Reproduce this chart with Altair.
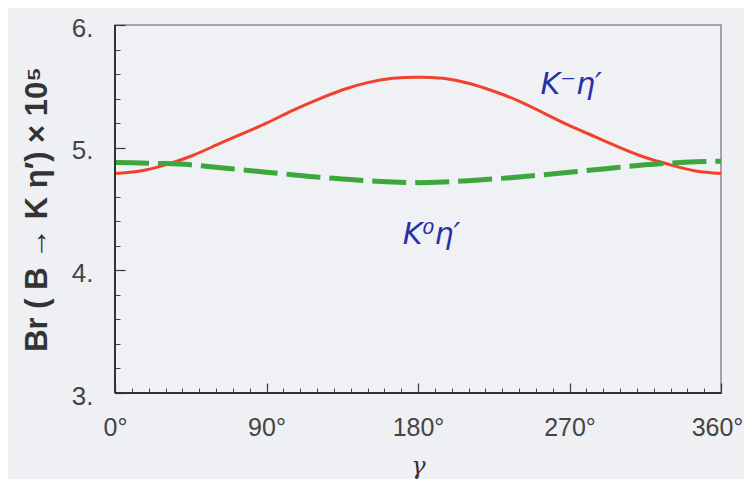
import altair as alt
import pandas as pd

gamma = list(range(0, 361, 15))
red_kminus = [4.79, 4.81, 4.86, 4.93, 5.02, 5.11, 5.20, 5.30, 5.39, 5.47, 5.53, 5.565, 5.575,
              5.565, 5.525, 5.46, 5.38, 5.28, 5.18, 5.09, 5.00, 4.92, 4.86, 4.81, 4.79]
green_k0 = [4.88, 4.875, 4.87, 4.86, 4.84, 4.82, 4.80, 4.78, 4.76, 4.745, 4.73, 4.72, 4.715,
            4.72, 4.73, 4.745, 4.76, 4.78, 4.80, 4.82, 4.84, 4.86, 4.875, 4.885, 4.89]

x_major = [0, 90, 180, 270, 360]
x_minor = list(range(0, 361, 10))
y_major = [3, 4, 5, 6]
y_minor = [3.0, 3.2, 3.4, 3.6, 3.8, 4.0, 4.2, 4.4, 4.6, 4.8, 5.0, 5.2, 5.4, 5.6, 5.8, 6.0]

ann_text = ["K⁻η′", "K⁰η′"]
ann_x = [271, 188]
ann_y = [5.51, 4.29]

df = pd.DataFrame({"gamma": gamma, "red": red_kminus, "green": green_k0})
ann = pd.DataFrame({"t": ann_text, "x": ann_x, "y": ann_y})

xs = alt.Scale(domain=[0, 360], nice=False, zero=False)
ys = alt.Scale(domain=[3, 6], nice=False, zero=False)

FONT = "Liberation Sans"

red_line = alt.Chart(df).mark_line(color="#f2402c", strokeWidth=3, interpolate="natural").encode(
    x=alt.X("gamma:Q", scale=xs, axis=alt.Axis(
        values=x_major, tickSize=10, offset=-10, domain=False, grid=False,
        labelExpr="datum.value + '°'", labelFontSize=25, labelFont=FONT, labelColor="#444",
        labelPadding=22, labelFlush=False, labelBound=False,
        labelOffset={"condition": {"test": "datum.value == 360", "value": -4}, "value": 0},
        tickColor="#333", tickWidth=1.2,
        title="γ", titleFont="DejaVu Serif", titleFontStyle="italic", titleFontWeight="normal",
        titleFontSize=24, titleColor="#333", titlePadding=14)),
    y=alt.Y("red:Q", scale=ys, axis=alt.Axis(
        values=y_major, tickSize=10, offset=-10, domain=False, grid=False,
        labelExpr="datum.value + '.'", labelFontSize=26, labelFont=FONT, labelColor="#444",
        labelPadding=22, labelOffset=3, tickColor="#333", tickWidth=1.2,
        title="Br ( B → K  η′) × 10⁵", titleFont=FONT, titleFontWeight="bold",
        titleFontSize=31, titleColor="#333", titlePadding=18)),
)

green_line = alt.Chart(df).mark_line(color="#3da63d", strokeWidth=5, strokeDash=[34, 9],
                                     interpolate="natural").encode(
    x=alt.X("gamma:Q", scale=xs, axis=alt.Axis(
        values=x_minor, tickSize=5, offset=-5, domain=False, grid=False, labels=False,
        title=None, orient="bottom", tickColor="#444", tickWidth=1)),
    y=alt.Y("green:Q", scale=ys, axis=alt.Axis(
        values=y_minor, tickSize=5, offset=-5, domain=False, grid=False, labels=False,
        title=None, orient="left", tickColor="#444", tickWidth=1)),
)

bottom_rule = alt.Chart(df).mark_rule(color="#333", strokeWidth=1.5).encode(
    y=alt.datum(3, scale=ys, axis=None))
left_rule = alt.Chart(df).mark_rule(color="#333", strokeWidth=1.5).encode(
    x=alt.datum(0, scale=xs, axis=None))

labels = alt.Chart(ann).mark_text(color="#2630a8", fontSize=30, font="DejaVu Sans",
                                  fontStyle="italic").encode(
    x=alt.X("x:Q", scale=xs, axis=None),
    y=alt.Y("y:Q", scale=ys, axis=None),
    text="t:N",
)

chart = alt.layer(red_line, green_line, bottom_rule, left_rule, labels).resolve_axis(
    x="independent", y="independent"
).properties(
    width=606, height=368,
    autosize=alt.AutoSizeParams(type="none"),
    padding={"left": 107, "top": 17, "right": 23, "bottom": 86},
    background="#eef0f4",
).configure_view(stroke="#8a8a8a", strokeWidth=1.5, fill="#eff1f5")

chart.save("out.html", embed_options={"renderer": "svg", "actions": False})
